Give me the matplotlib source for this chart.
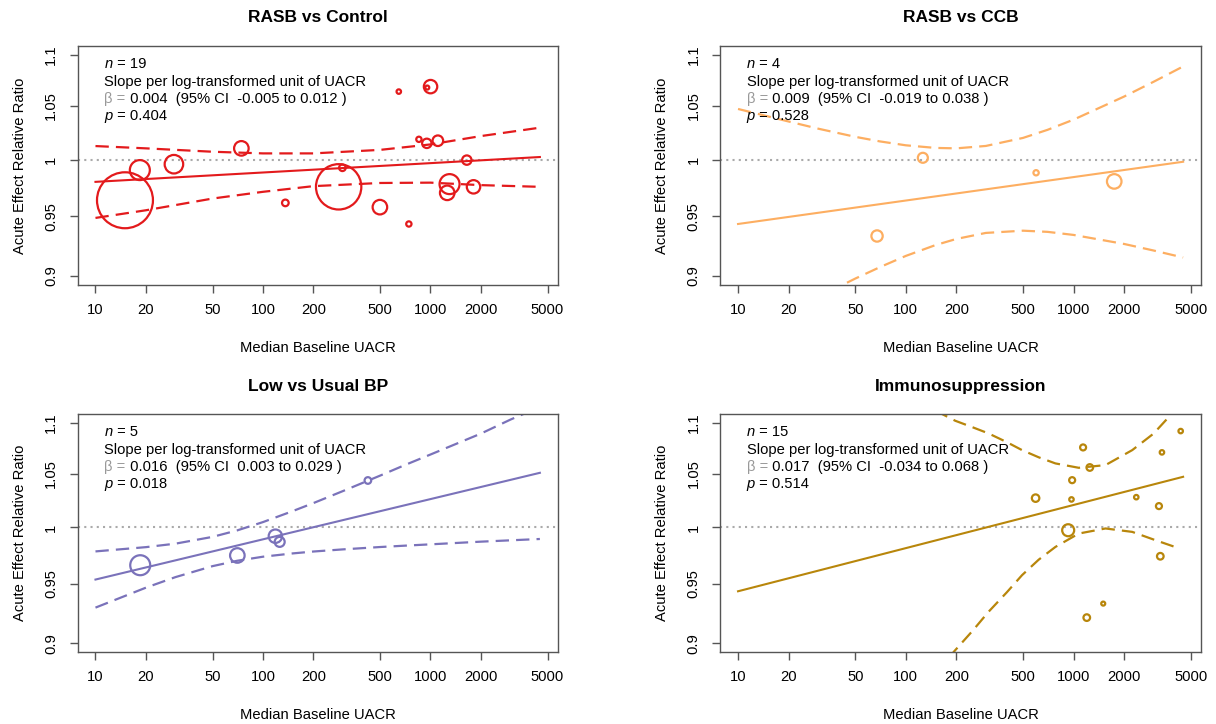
import numpy as np
import matplotlib
matplotlib.use("Agg")
from matplotlib import pyplot as plt
from matplotlib.offsetbox import TextArea, HPacker, AnnotationBbox

plt.rcParams['font.family'] = ['Liberation Sans', 'DejaVu Sans']

# axis setup shared by all four panels
x_ticks = [10, 20, 50, 100, 200, 500, 1000, 2000, 5000]
x_tick_labels = ['10', '20', '50', '100', '200', '500', '1000', '2000', '5000']
y_ticks = [0.9, 0.95, 1, 1.05, 1.1]
y_tick_labels = ['0.9', '0.95', '1', '1.05', '1.1']
x_range = [10, 4500]
y_range = [0.9, 1.1]

# RASB vs Control
ctrl_x = [15, 18.4, 29.4, 74.3, 136, 283, 298, 499, 647, 743, 1001, 957, 853, 951, 1107, 1648, 1300, 1259, 1807]
ctrl_y = [0.964, 0.9907, 0.996, 1.0104, 0.9617, 0.9758, 0.9928, 0.958, 1.0637, 0.9435,
          1.0685, 1.0676, 1.0187, 1.015, 1.0174, 0.9997, 0.9782, 0.9705, 0.9758]
ctrl_w = [784, 100, 86, 53, 11, 515, 11, 53, 5, 7, 45, 4, 7, 22, 28, 22, 100, 53, 45]
ctrl_fit = [0.9802, 1.0025]
ctrl_hi_x = [10, 20, 50, 100, 200, 500, 1000, 2000, 4500]
ctrl_hi = [1.0125, 1.0104, 1.0073, 1.0058, 1.0058, 1.0090, 1.0140, 1.0217, 1.0295]
ctrl_lo_x = [10, 20, 50, 100, 200, 500, 1000, 2000, 4500]
ctrl_lo = [0.9487, 0.9553, 0.9655, 0.9714, 0.9764, 0.9792, 0.9795, 0.9773, 0.9758]

# RASB vs CCB
ccb_x = [126.4, 67.4, 598, 1748]
ccb_y = [1.0018, 0.9333, 0.9883, 0.9806]
ccb_w = [25, 32, 7, 53]
ccb_fit = [0.9435, 0.9982]
ccb_hi_x = [10, 20, 30, 50, 70, 100, 150, 200, 300, 500, 700, 1000, 2000, 3000, 4500]
ccb_hi = [1.0471, 1.0353, 1.0286, 1.0210, 1.0168, 1.0132, 1.0108, 1.0104, 1.0126, 1.0200,
          1.0275, 1.0370, 1.0589, 1.0732, 1.0882]
ccb_lo_x = [10, 20, 30, 50, 70, 100, 150, 200, 300, 500, 700, 1000, 2000, 3000, 4500]
ccb_lo = [0.8501, 0.8708, 0.8830, 0.8980, 0.9073, 0.9166, 0.9256, 0.9308, 0.9359, 0.9378,
          0.9368, 0.9342, 0.9266, 0.9211, 0.9153]

# Low vs Usual BP
bp_x = [18.5, 70.3, 118.6, 125.8, 423]
bp_y = [0.9663, 0.9749, 0.9921, 0.987, 1.0436]
bp_w = [100, 53, 45, 25, 11]
bp_fit = [0.9538, 1.0509]
bp_hi_x = [10, 20, 30, 50, 70, 100, 150, 200, 300, 500, 700, 1000, 2000, 3000, 4500]
bp_hi = [0.9785, 0.9823, 0.9854, 0.9915, 0.9973, 1.0049, 1.0149, 1.0224, 1.0336, 1.0482,
         1.0582, 1.0685, 1.0890, 1.1029, 1.1157]
bp_lo_x = [10, 20, 30, 50, 70, 100, 150, 200, 300, 500, 700, 1000, 2000, 3000, 4500]
bp_lo = [0.9298, 0.9468, 0.9559, 0.9655, 0.9702, 0.9738, 0.9767, 0.9784, 0.9803, 0.9824,
         0.9836, 0.9848, 0.9872, 0.9884, 0.9896]

# Immunosuppression
imm_x = [594, 981, 972, 1140, 1250, 929, 2366, 3365, 3229, 3290, 4352, 1503, 1199]
imm_y = [1.027, 1.0439, 1.0258, 1.0754, 1.056, 0.9975, 1.0279, 1.0706, 1.0196, 0.9742, 1.0915, 0.9332, 0.9214]
imm_w = [14, 9, 5, 9, 11, 36, 5, 5, 9, 11, 5, 4, 11]
imm_fit = [0.9437, 1.0471]
imm_hi_x = [150, 197, 250, 311, 400, 493, 620, 780, 1074, 1551, 2239, 3000, 3704, 4300]
imm_hi = [1.112, 1.1018, 1.0953, 1.0892, 1.0806, 1.0728, 1.0658, 1.0599, 1.0557, 1.0583,
          1.0728, 1.0890, 1.1057, 1.13]
imm_lo_x = [150, 197, 250, 311, 400, 493, 620, 780, 1074, 1551, 2239, 3080, 4300]
imm_lo = [0.876, 0.8945, 0.9104, 0.9262, 0.9428, 0.9576, 0.9712, 0.9825, 0.9945, 0.9991,
          0.996, 0.9885, 0.981]

titles = ['RASB vs Control', 'RASB vs CCB', 'Low vs Usual BP', 'Immunosuppression']
colors = ['#E31A1C', '#FDAE61', '#7A72BA', '#B8860B']
stat_n = ['19', '4', '5', '15']
stat_beta = ['0.004', '0.009', '0.016', '0.017']
stat_ci = ['-0.005 to 0.012', '-0.019 to 0.038', '0.003 to 0.029', '-0.034 to 0.068']
stat_p = ['0.404', '0.528', '0.018', '0.514']

panels = [
    (ctrl_x, ctrl_y, ctrl_w, ctrl_fit, ctrl_hi_x, ctrl_hi, ctrl_lo_x, ctrl_lo),
    (ccb_x, ccb_y, ccb_w, ccb_fit, ccb_hi_x, ccb_hi, ccb_lo_x, ccb_lo),
    (bp_x, bp_y, bp_w, bp_fit, bp_hi_x, bp_hi, bp_lo_x, bp_lo),
    (imm_x, imm_y, imm_w, imm_fit, imm_hi_x, imm_hi, imm_lo_x, imm_lo),
]

axes_pos = [[0.0639, 0.6064, 0.3947, 0.3305], [0.5923, 0.6064, 0.3953, 0.3305],
            [0.0639, 0.0990, 0.3947, 0.3296], [0.5923, 0.0990, 0.3953, 0.3296]]

fs = 10.6
box_col = '#555555'

fig = plt.figure(figsize=(12.16, 7.24), dpi=100)

for i, (px, py, pw, fit, hx, hy, lx, ly) in enumerate(panels):
    ax = fig.add_axes(axes_pos[i])
    col = colors[i]
    ax.set_xscale('log')
    ax.set_yscale('log')

    ax.scatter(px, py, s=np.array(pw) * 2.07, facecolors='none', edgecolors=col,
               linewidths=1.6, zorder=3)
    ax.plot(x_range, fit, color=col, lw=1.5, zorder=2)
    ax.plot(hx, hy, color=col, lw=1.6, dashes=(6, 3.2), zorder=2)
    ax.plot(lx, ly, color=col, lw=1.6, dashes=(6, 3.2), zorder=2)
    ax.axhline(1, color='#AAAAAA', lw=1.5, dashes=(1, 2), zorder=1)

    # R style 4% padding
    ux = np.log10(x_range)
    ex = 0.04 * (ux[1] - ux[0])
    ax.set_xlim(10 ** (ux[0] - ex), 10 ** (ux[1] + ex))
    uy = np.log(y_range)
    ey = 0.04 * (uy[1] - uy[0])
    ax.set_ylim(np.exp(uy[0] - ey), np.exp(uy[1] + ey))

    ax.set_xticks(x_ticks)
    ax.set_xticklabels(x_tick_labels)
    ax.set_yticks(y_ticks)
    ax.set_yticklabels(y_tick_labels)
    ax.minorticks_off()
    ax.tick_params(direction='out', length=6, width=1, colors=box_col,
                   labelcolor='black', labelsize=fs)
    ax.tick_params(axis='x', pad=7)
    ax.tick_params(axis='y', pad=8, labelrotation=90)
    for lab in ax.get_yticklabels():
        lab.set_va('center')
    for sp in ax.spines.values():
        sp.set_color(box_col)
        sp.set_linewidth(1)

    ax.set_xlabel('Median Baseline UACR', fontsize=fs)
    ax.xaxis.set_label_coords(0.5, -63 / 239)
    ax.xaxis.label.set_va('center')
    ax.set_ylabel('Acute Effect Relative Ratio', fontsize=fs)
    ax.yaxis.set_label_coords(-58 / 480, 0.5)
    ax.yaxis.label.set_va('center')

    ax.text(0.5, 1 + 27.7 / 239.3, titles[i], transform=ax.transAxes, ha='center',
            va='center', fontsize=12.5, fontweight='bold')

    lines = [
        [('n', 'black', 'italic'), (' = ' + stat_n[i], 'black', 'normal')],
        [('Slope per log-transformed unit of UACR', 'black', 'normal')],
        [('\u03b2 =', '#999999', 'normal'),
         (' ' + stat_beta[i] + '  (95% CI  ' + stat_ci[i] + ' )', 'black', 'normal')],
        [('p', 'black', 'italic'), (' = ' + stat_p[i], 'black', 'normal')],
    ]
    for k, parts in enumerate(lines):
        kids = [TextArea(t, textprops=dict(fontsize=fs, color=c, style=st)) for t, c, st in parts]
        hp = HPacker(children=kids, align='baseline', pad=0, sep=0)
        ab = AnnotationBbox(hp, (0, 1), xycoords='axes fraction',
                            xybox=(19.15, -13.4 - k * 12.46), boxcoords='offset points',
                            box_alignment=(0, 0.5), frameon=False, pad=0,
                            annotation_clip=False)
        ax.add_artist(ab)

plt.savefig('out.png', dpi=100)
